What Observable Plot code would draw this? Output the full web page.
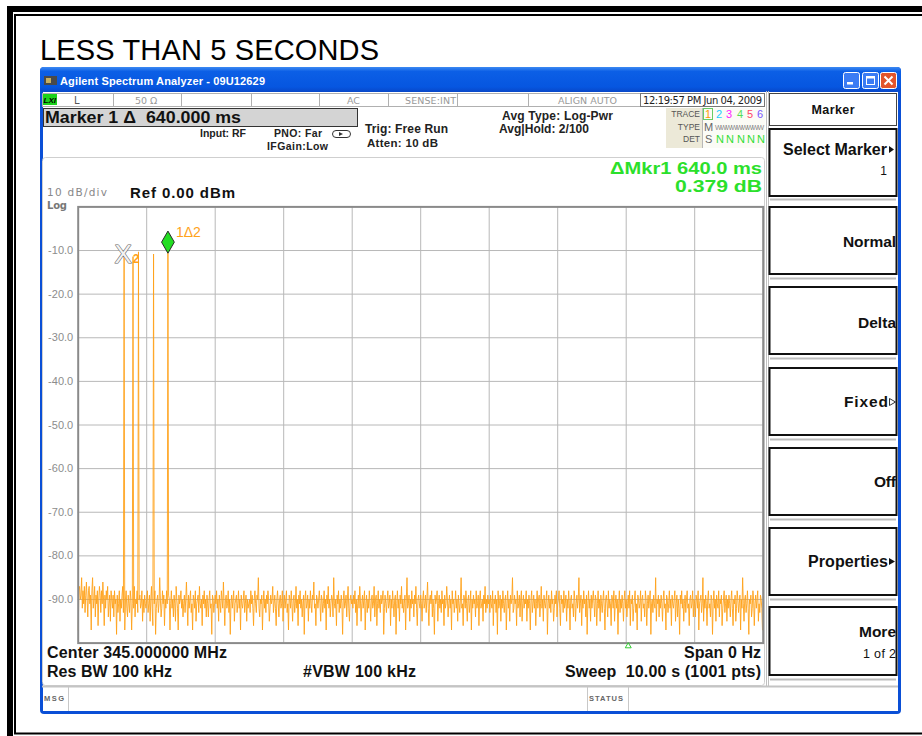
<!DOCTYPE html>
<html><head><meta charset="utf-8">
<script src="https://cdn.jsdelivr.net/npm/d3@7"></script>
<script src="https://cdn.jsdelivr.net/npm/@observablehq/plot@0.6"></script>
<style>
html,body{margin:0;padding:0;background:#fff;}
#page{position:relative;width:922px;height:736px;overflow:hidden;background:#fff;font-family:"Liberation Sans",Arial,sans-serif;}
#chrome{position:absolute;left:0;top:0;}
#chrome text{font-family:"Liberation Sans",Arial,sans-serif;}
#chrome text.dv{font-family:"DejaVu Sans",Verdana,sans-serif;}
#chart{position:absolute;left:40px;top:196px;}
.b{font-weight:bold;}
</style></head>
<body><div id="page">
<svg id="chrome" width="922" height="736" xmlns="http://www.w3.org/2000/svg">
<defs>
<linearGradient id="tb" x1="0" y1="0" x2="0" y2="1">
<stop offset="0" stop-color="#3d8af2"/><stop offset="0.18" stop-color="#0c5fe6"/><stop offset="0.8" stop-color="#0656e0"/><stop offset="1" stop-color="#0847c8"/>
</linearGradient>
</defs>
<!-- page frame -->
<rect x="10" y="9" width="940" height="760" fill="none" stroke="#000" stroke-width="6"/>
<rect x="15" y="15" width="930" height="718.5" fill="none" stroke="#000" stroke-width="2"/>
<text x="40" y="60" font-size="29" textLength="339" fill="#000">LESS THAN 5 SECONDS</text>
<!-- window -->
<rect x="40" y="67" width="861" height="647" rx="4" fill="#0a4fd6"/>
<rect x="43" y="91" width="855" height="620" fill="#fff"/>
<rect x="40" y="67" width="861" height="25" rx="4" fill="url(#tb)"/>
<rect x="44" y="76" width="13" height="9" fill="#4a4a4a"/><rect x="46" y="78" width="5" height="5" fill="#c8b060"/>
<text x="60" y="85" font-size="11" class="b" fill="#fff" textLength="205">Agilent Spectrum Analyzer - 09U12629</text>
<rect x="843.5" y="72.5" width="16" height="16" rx="2" fill="#3b7cf4" stroke="#fff"/><rect x="847" y="82" width="6" height="2.5" fill="#fff"/>
<rect x="862.5" y="72.5" width="16" height="16" rx="2" fill="#3b7cf4" stroke="#fff"/><rect x="866.5" y="76.5" width="8" height="8" fill="none" stroke="#fff"/><rect x="866.5" y="76.5" width="8" height="2" fill="#fff"/>
<rect x="880.5" y="72.5" width="16" height="16" rx="2" fill="#e2552c" stroke="#fff"/><path d="M884.5 76.5 L892.5 84.5 M892.5 76.5 L884.5 84.5" stroke="#fff" stroke-width="2"/>
<!-- header row -->
<rect x="42.5" y="93.5" width="722" height="13" fill="#fff" stroke="#b0b0b0"/>
<path d="M113.5 93.5V106.5M181.5 93.5V106.5M251.5 93.5V106.5M319.5 93.5V106.5M388.5 93.5V106.5M457.5 93.5V106.5M528.5 93.5V106.5" stroke="#b0b0b0"/>
<rect x="640.5" y="93.5" width="124" height="13" fill="#fff" stroke="#777"/>
<rect x="43" y="94" width="14" height="11" fill="#1bd21b"/>
<text x="43.5" y="103" font-size="8" font-weight="bold" font-style="italic" fill="#000">LXI</text>
<text x="74" y="104" font-size="10" fill="#555" class="dv">L</text>
<text x="135" y="104" font-size="9.5" fill="#999" class="dv">50 Ω</text>
<text x="347" y="104" font-size="9.5" fill="#999" class="dv">AC</text>
<text x="405" y="104" font-size="9.5" fill="#999" class="dv" textLength="51">SENSE:INT</text>
<text x="558" y="104" font-size="9.5" fill="#999" class="dv" textLength="59">ALIGN AUTO</text>
<text x="643" y="104" font-size="10" fill="#222" class="dv" textLength="119">12:19:57 PM Jun 04, 2009</text>
<!-- marker box and settings -->
<rect x="43.5" y="108.5" width="314" height="18" fill="#d4d4d4" stroke="#333"/>
<text x="45" y="123" font-size="16.5" class="b" fill="#111" textLength="196" lengthAdjust="spacingAndGlyphs">Marker 1 Δ&#160; 640.000 ms</text>
<text x="200" y="137" font-size="10.5" class="b" fill="#222" textLength="46">Input: RF</text>
<text x="274" y="137" font-size="10.5" class="b" fill="#222" textLength="48">PNO: Far</text>
<rect x="332.5" y="130.5" width="18" height="7" rx="3.5" fill="none" stroke="#333"/><path d="M339 132 L343 134 L339 136 Z" fill="#333"/>
<text x="267" y="150" font-size="10.5" class="b" fill="#222" textLength="61">IFGain:Low</text>
<text x="365" y="133" font-size="12" class="b" fill="#222" textLength="83">Trig: Free Run</text>
<text x="367" y="147" font-size="11.5" class="b" fill="#222" textLength="71">Atten: 10 dB</text>
<text x="502" y="120" font-size="12" class="b" fill="#222" textLength="111">Avg Type: Log-Pwr</text>
<text x="499" y="133" font-size="12" class="b" fill="#222" textLength="90">Avg|Hold: 2/100</text>
<!-- trace table -->
<rect x="666" y="108" width="99" height="40" fill="#ece9d8"/>
<rect x="703" y="108" width="62" height="40" fill="#fbfbf6"/>
<path d="M702.5 108V148" stroke="#b8b8b8"/>
<text x="700" y="117" font-size="8.5" fill="#555" text-anchor="end">TRACE</text>
<text x="700" y="130" font-size="8.5" fill="#555" text-anchor="end">TYPE</text>
<text x="700" y="142" font-size="8.5" fill="#555" text-anchor="end">DET</text>
<rect x="703.5" y="108.5" width="9" height="11" fill="none" stroke="#6c6"/>
<text x="705" y="118" font-size="11" fill="#ff9900">1</text>
<text x="716" y="118" font-size="11" fill="#22ccff">2</text>
<text x="726" y="118" font-size="11" fill="#ff22ff">3</text>
<text x="737" y="118" font-size="11" fill="#55dd55">4</text>
<text x="747" y="118" font-size="11" fill="#ff4466">5</text>
<text x="757" y="118" font-size="11" fill="#7755ff">6</text>
<text x="704" y="131" font-size="11" fill="#666">M</text>
<text x="715" y="130" font-size="7" fill="#888" textLength="49">WWWWWWWWW</text>
<text x="705" y="143" font-size="11" fill="#666">S</text>
<text x="716" y="143" font-size="11" fill="#33dd33">N</text>
<text x="726" y="143" font-size="11" fill="#33dd33">N</text>
<text x="737" y="143" font-size="11" fill="#33dd33">N</text>
<text x="747" y="143" font-size="11" fill="#33dd33">N</text>
<text x="757" y="143" font-size="11" fill="#33dd33">N</text>
<!-- plot panel -->
<rect x="42.5" y="157.5" width="722" height="528" rx="3" fill="none" stroke="#cfcfcf"/>
<text x="762" y="174" font-size="16" class="b" fill="#2be02b" text-anchor="end" textLength="152" lengthAdjust="spacingAndGlyphs">ΔMkr1 640.0 ms</text>
<text x="762" y="192" font-size="16" class="b" fill="#2be02b" text-anchor="end" textLength="87" lengthAdjust="spacingAndGlyphs">0.379 dB</text>
<text x="47" y="196" font-size="10.5" fill="#888" class="dv" textLength="60">10 dB/div</text>
<text x="47" y="208.5" font-size="10" class="b dv" fill="#777" textLength="20">Log</text>
<text x="130" y="198" font-size="15" class="b" fill="#111" textLength="105">Ref 0.00 dBm</text>
<text x="47" y="658" font-size="16" class="b" fill="#111" textLength="180">Center 345.000000 MHz</text>
<text x="47" y="677" font-size="16" class="b" fill="#111" textLength="125">Res BW 100 kHz</text>
<text x="303" y="677" font-size="16" class="b" fill="#111" textLength="113">#VBW 100 kHz</text>
<text x="761" y="658" font-size="16" class="b" fill="#111" text-anchor="end" textLength="77">Span 0 Hz</text>
<text x="761" y="677" font-size="16" class="b" fill="#111" text-anchor="end" textLength="196">Sweep&#160; 10.00 s (1001 pts)</text>
<!-- message bar -->
<path d="M42 686.5H898" stroke="#c4c4c4" stroke-width="2"/>
<path d="M68.5 687V711M587.5 687V711M628.5 687V711" stroke="#c8c8c8"/>
<text x="44" y="701" font-size="7.5" class="b" fill="#666" textLength="20">MSG</text>
<text x="589" y="701" font-size="7.5" class="b" fill="#666" textLength="34">STATUS</text>
<!-- softkeys -->
<path d="M766.5 91V686M768.5 91V686" stroke="#c0c0c0"/>
<rect x="769.5" y="93.5" width="127" height="32" fill="#fff" stroke="#444"/>
<text x="833" y="114" font-size="12.5" class="b" fill="#111" text-anchor="middle" textLength="43">Marker</text>
<rect x="769.5" y="129" width="127" height="67" fill="#fff" stroke="#111" stroke-width="2"/>
<rect x="769.5" y="207" width="127" height="67" fill="#fff" stroke="#111" stroke-width="2"/>
<rect x="769.5" y="287" width="127" height="67" fill="#fff" stroke="#111" stroke-width="2"/>
<rect x="769.5" y="368" width="127" height="67" fill="#fff" stroke="#111" stroke-width="2"/>
<rect x="769.5" y="448" width="127" height="67" fill="#fff" stroke="#111" stroke-width="2"/>
<rect x="769.5" y="528" width="127" height="67" fill="#fff" stroke="#111" stroke-width="2"/>
<rect x="769.5" y="607" width="127" height="68" fill="#fff" stroke="#111" stroke-width="2"/>
<path d="M770 199.5H896M770 278.5H896M770 358.5H896M770 439.5H896M770 519.5H896M770 599.5H896M770 679.5H896" stroke="#bdbdbd" stroke-width="2"/>
<text x="887" y="155" font-size="16" class="b" fill="#111" text-anchor="end" textLength="104">Select Marker</text>
<path d="M889 146 L894 149.5 L889 153 Z" fill="#111"/>
<text x="887" y="175" font-size="12" fill="#111" text-anchor="end">1</text>
<text x="896" y="247" font-size="15.5" class="b" fill="#111" text-anchor="end" textLength="53">Normal</text>
<text x="896" y="328" font-size="15.5" class="b" fill="#111" text-anchor="end" textLength="38">Delta</text>
<text x="888" y="407" font-size="15.5" class="b" fill="#111" text-anchor="end" textLength="44">Fixed</text>
<path d="M889.5 398.5 L895.5 402 L889.5 405.5 Z" fill="none" stroke="#333"/>
<text x="896" y="487" font-size="15.5" class="b" fill="#111" text-anchor="end" textLength="22">Off</text>
<text x="888" y="567" font-size="16" class="b" fill="#111" text-anchor="end" textLength="80">Properties</text>
<path d="M889 558 L895 561.5 L889 565 Z" fill="#111"/>
<text x="896" y="637" font-size="15.5" class="b" fill="#111" text-anchor="end" textLength="37">More</text>
<text x="896" y="658" font-size="12.5" fill="#111" text-anchor="end" textLength="33">1 of 2</text>
</svg>
<div id="chart"></div>
</div>
<script>
// Y axis (dB), 10 dB/div, Ref 0.00 dBm
const yTicks = [-10, -20, -30, -40, -50, -60, -70, -80, -90];
const yDomain = [-100, 0];
// Time axis: zero span, sweep 10.00 s, 1001 pts
const sweepTime = 10;
const sweepPoints = 1001;
const timeDivs = [1, 2, 3, 4, 5, 6, 7, 8, 9];
const noise = [
-97,-88,-87,-90,-89,-85,-92,-88,-91,-87, -93,-89,-86,-90,-94,-88,-87,-91,-89,-97, -88,-85,-92,-90,-87,-94,-89,-91,-88,-96, -90,-87,-89,-93,-88,-91,-86,-90,-96,-89, -92,-88,-90,-87,-94,-91,-89,-95,-88,-90,
-92,-89,-94,-88,-91,-90,-98,-89,-93,-91, -88,-95,-90,-92,-89,-87,-93,-91,-97,-90, -88,-92,-94,-89,-91,-93,-88,-90,-97,-91, -89,-92,-87,-94,-90,-91,-88,-93,-96,-90, -89,-92,-91,-88,-95,-90,-93,-89,-91,-92,
-90,-88,-93,-91,-89,-95,-90,-87,-92,-96, -89,-91,-88,-98,-92,-90,-89,-93,-91,-85, -90,-94,-92,-88,-91,-89,-96,-90,-92,-88, -91,-93,-89,-90,-97,-91,-88,-92,-90,-94, -89,-91,-95,-87,-90,-92,-97,-89,-91,-90,
-88,-92,-90,-94,-91,-89,-93,-90,-86,-91, -96,-89,-92,-90,-88,-93,-91,-97,-89,-90, -92,-88,-95,-91,-90,-89,-93,-87,-91,-92, -90,-96,-89,-91,-88,-92,-90,-94,-89,-91, -94,-90,-88,-92,-91,-98,-89,-90,-93,-91,
-89,-91,-88,-92,-90,-95,-89,-91,-93,-88, -90,-92,-86,-91,-96,-90,-89,-92,-91,-88, -93,-90,-98,-91,-89,-92,-90,-88,-95,-91, -90,-89,-93,-91,-88,-92,-90,-97,-89,-91, -92,-90,-88,-93,-91,-89,-95,-90,-92,-91,
-90,-93,-88,-91,-89,-92,-96,-90,-88,-91, -93,-89,-90,-85,-92,-94,-90,-91,-89,-97, -91,-88,-92,-90,-93,-89,-91,-88,-90,-95, -92,-89,-91,-90,-87,-93,-91,-89,-92,-96, -90,-88,-91,-94,-90,-89,-92,-91,-88,-95,
-91,-89,-92,-90,-88,-93,-91,-97,-89,-90, -92,-88,-91,-95,-90,-89,-93,-91,-87,-92, -90,-96,-89,-91,-88,-92,-90,-94,-91,-89, -98,-90,-88,-92,-91,-89,-95,-90,-92,-88, -91,-93,-89,-90,-86,-92,-91,-96,-89,-90,
-92,-90,-88,-91,-95,-89,-90,-93,-91,-88, -92,-90,-97,-89,-91,-87,-92,-90,-94,-91, -89,-90,-94,-85,-91,-92,-90,-96,-89,-91, -88,-93,-90,-92,-89,-91,-98,-90,-88,-92, -91,-89,-94,-90,-87,-92,-95,-90,-89,-91,
-90,-92,-89,-91,-88,-93,-90,-96,-91,-89, -92,-87,-90,-95,-91,-89,-92,-90,-88,-97, -91,-89,-93,-90,-92,-88,-91,-95,-90,-89, -92,-91,-87,-94,-90,-89,-96,-91,-88,-92, -90,-93,-89,-91,-90,-88,-98,-92,-89,-91,
-93,-90,-88,-92,-91,-89,-96,-90,-92,-88, -91,-94,-90,-89,-98,-91,-88,-92,-90,-95, -89,-91,-87,-92,-90,-93,-91,-89,-97,-90, -85,-92,-91,-89,-95,-90,-92,-88,-91,-90, -94,-89,-91,-87,-92,-96,-90,-89,-91,-92,
-89,-91,-95,-90,-88,-92,-91,-89,-93,-90, -86,-92,-96,-90,-89,-91,-88,-94,-90,-92, -98,-89,-91,-90,-88,-95,-91,-89,-92,-90, -93,-88,-91,-90,-96,-89,-92,-91,-87,-90, -94,-91,-89,-92,-90,-97,-88,-91,-90,-93,
-91,-88,-92,-90,-95,-89,-91,-93,-90,-85, -92,-91,-96,-89,-90,-92,-88,-91,-95,-90, -89,-93,-91,-88,-97,-90,-92,-89,-91,-90, -94,-88,-92,-91,-89,-96,-90,-88,-92,-91, -90,-95,-89,-91,-87,-93,-90,-92,-89,-91,
-90,-93,-89,-91,-92,-88,-96,-90,-91,-89, -93,-90,-98,-88,-92,-91,-89,-95,-90,-92, -88,-91,-93,-90,-89,-97,-91,-88,-92,-90, -95,-89,-91,-90,-85,-93,-92,-89,-91,-90, -96,-88,-92,-91,-89,-94,-90,-88,-95,-91,
-89,-92,-90,-91,-88,-95,-90,-92,-89,-91, -97,-90,-88,-93,-91,-89,-92,-90,-96,-91, -88,-92,-90,-89,-94,-91,-87,-92,-90,-95, -89,-91,-92,-90,-88,-98,-91,-89,-92,-90, -93,-88,-91,-90,-95,-92,-89,-91,-88,-94,
-91,-90,-88,-92,-96,-89,-91,-90,-93,-88, -92,-91,-89,-95,-90,-92,-88,-91,-97,-90, -89,-92,-91,-94,-88,-90,-95,-91,-89,-92, -90,-85,-93,-91,-89,-96,-90,-92,-88,-91, -90,-94,-89,-98,-91,-88,-92,-90,-95,-89,
-92,-90,-88,-91,-94,-89,-90,-96,-91,-88, -92,-90,-95,-89,-91,-93,-90,-88,-92,-97, -90,-89,-91,-94,-88,-92,-90,-91,-96,-89, -90,-92,-88,-95,-91,-89,-92,-90,-98,-91, -88,-93,-90,-92,-89,-91,-95,-90,-88,-92,
-90,-94,-91,-89,-92,-88,-96,-90,-91,-89, -95,-92,-90,-88,-93,-91,-97,-89,-90,-92, -91,-88,-95,-90,-89,-92,-91,-94,-88,-90, -96,-91,-89,-92,-90,-88,-98,-91,-90,-93, -89,-91,-92,-85,-95,-90,-91,-89,-94,-90,
-92,-89,-91,-95,-90,-88,-92,-91,-97,-89, -90,-93,-91,-88,-92,-90,-96,-89,-91,-92, -90,-88,-95,-91,-89,-94,-90,-92,-98,-89, -91,-88,-92,-90,-95,-91,-89,-93,-90,-88, -92,-91,-96,-90,-89,-92,-91,-88,-94,-90,
-91,-94,-89,-90,-92,-88,-97,-91,-90,-89, -93,-91,-85,-95,-90,-92,-89,-91,-96,-90, -88,-92,-91,-94,-89,-90,-98,-91,-88,-92, -90,-95,-89,-91,-92,-88,-94,-90,-91,-89, -96,-92,-90,-88,-93,-91,-89,-95,-90,-92,
-89,-91,-94,-90,-88,-92,-96,-90,-91,-89, -95,-92,-88,-90,-93,-91,-89,-97,-90,-92, -85,-91,-95,-90,-89,-93,-91,-88,-92,-98, -90,-91,-89,-94,-92,-88,-90,-96,-91,-89, -92,-90,-88,-95,-91,-93,-89,-90,-92,-97,
-97
];
// Burst pulses (time in s, level in dBm)
const pulseTimes = [0.67, 0.80, 0.88, 1.10, 1.31];
const pulseLevels = [-10.98, -11.4, -10.3, -10.8, -10.6];
// Markers: 1 (delta, diamond) and 2 (reference, X)
const markerTimes = [1.31, 0.67];
const markerLevels = [-10.6, -10.98];
const markerNames = ["1Δ2", "2"];
const lowerIndicatorTimes = [8.03];

const trace = noise.map((v, i) => ({t: i * sweepTime / (sweepPoints - 1), v}));
pulseTimes.forEach((t, k) => {
  const idx = Math.round(t * (sweepPoints - 1) / sweepTime);
  if (trace[idx]) trace[idx].v = pulseLevels[k];
});
const mk1 = [{t: markerTimes[0], v: markerLevels[0], name: markerNames[0]}];
const mk2 = [{t: markerTimes[1], v: markerLevels[1], name: markerNames[1]}];
const orange = "#ffa21a";

const chart = Plot.plot({
  width: 730,
  height: 460,
  marginLeft: 37.7,
  marginRight: 7.3,
  marginTop: 10.4,
  marginBottom: 13.4,
  style: {fontFamily: "Liberation Sans, Arial, sans-serif", background: "transparent", overflow: "visible"},
  x: {domain: [0, sweepTime], axis: null, label: null},
  y: {domain: yDomain, axis: null, label: null},
  marks: [
    Plot.ruleY(yTicks, {stroke: "#b8b8b8", strokeWidth: 1}),
    Plot.ruleX(timeDivs, {stroke: "#b8b8b8", strokeWidth: 1}),
    Plot.axisY(yTicks, {tickSize: 0, tickPadding: 5, tickFormat: d => d.toFixed(1), fontSize: 11, color: "#8c8c8c", label: null}),
    Plot.line(trace, {x: "t", y: "v", stroke: orange, strokeWidth: 0.9}),
    Plot.frame({stroke: "#8a8a8a", strokeWidth: 2}),
    Plot.text(mk2, {x: "t", y: "v", text: () => "X", fontSize: 26, fill: "#f2f2f2", stroke: "#666", strokeWidth: 1.2, dx: -1}),
    Plot.text(mk2, {x: "t", y: "v", text: "name", fontSize: 12, fontWeight: "bold", fill: orange, dx: 12, dy: 4}),
    Plot.dot(mk1, {x: "t", y: "v", symbol: "diamond", r: 6.7, fill: "#22dd22", stroke: "#2a2a2a", strokeWidth: 1, dy: -11}),
    Plot.text(mk1, {x: "t", y: "v", text: "name", fontSize: 14, fill: orange, textAnchor: "start", dx: 8, dy: -21}),
    Plot.dot(lowerIndicatorTimes, {x: d => d, y: () => yDomain[0], symbol: "triangle", r: 2.2, fill: "none", stroke: "#33cc33", strokeWidth: 1, dy: 3})
  ]
});
document.getElementById("chart").appendChild(chart);
</script>
</body></html>
